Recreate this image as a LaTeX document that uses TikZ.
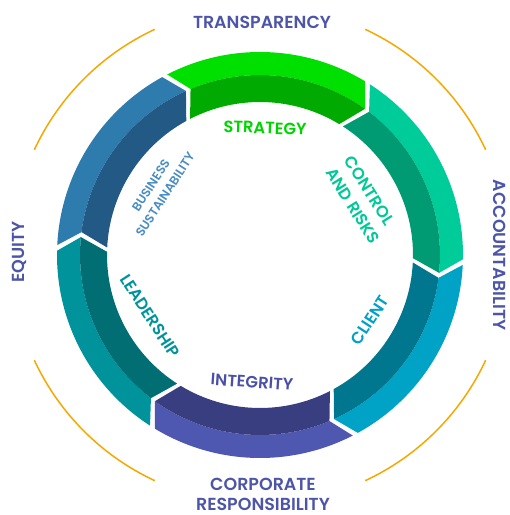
\documentclass[tikz,border=0pt]{standalone}
\usepackage{fontspec}
\setmainfont{Poppins}[BoldFont=* SemiBold]
\definecolor{lblblue}{HTML}{4D55A8}
\definecolor{arcorange}{HTML}{F5A800}
\definecolor{gLight}{HTML}{00E000}
\definecolor{gDark}{HTML}{00AA00}
\definecolor{trLight}{HTML}{00CC99}
\definecolor{trDark}{HTML}{009B72}
\definecolor{cyLight}{HTML}{00A3C6}
\definecolor{cyDark}{HTML}{00778F}
\definecolor{inLight}{HTML}{4F58B0}
\definecolor{inDark}{HTML}{383E80}
\definecolor{tlLight}{HTML}{00939B}
\definecolor{tlDark}{HTML}{006E73}
\definecolor{blLight}{HTML}{2E7BAE}
\definecolor{blDark}{HTML}{225A85}
\definecolor{cStrat}{HTML}{00D400}
\definecolor{cCtrl}{HTML}{00C896}
\definecolor{cClient}{HTML}{00A0C8}
\definecolor{cInteg}{HTML}{4A4FA8}
\definecolor{cLead}{HTML}{00939B}
\definecolor{cBus}{HTML}{4A8DC0}
\def\Ro{203bp}
\def\Rm{180bp}
\def\Ri{153bp}
\def\gp{0.8}
\def\dl{4.5}
\newcommand\ringseg[3]{%
  \fill[#2] ({#1+\gp-\dl}:\Rm) -- ({#1+\gp}:\Ro)
    arc[start angle={#1+\gp}, end angle={#1+60-\gp}, radius=\Ro]
    -- ({#1+60-\gp-\dl}:\Rm)
    arc[start angle={#1+60-\gp-\dl}, end angle={#1+\gp-\dl}, radius=\Rm] -- cycle;
  \fill[#3] ({#1+\gp-\dl}:\Rm) -- ({#1+\gp}:\Ri)
    arc[start angle={#1+\gp}, end angle={#1+60-\gp}, radius=\Ri]
    -- ({#1+60-\gp-\dl}:\Rm)
    arc[start angle={#1+60-\gp-\dl}, end angle={#1+\gp-\dl}, radius=\Rm] -- cycle;
}
\begin{document}
\begin{tikzpicture}[x=1bp,y=1bp,
  outerlbl/.style={font=\fontsize{17.5}{20}\selectfont\bfseries, text=lblblue, inner sep=0pt},
  innerlbl/.style={font=\fontsize{16.5}{22}\selectfont\bfseries, inner sep=0pt},
  smalllbl/.style={font=\fontsize{12.5}{17}\selectfont\bfseries, inner sep=0pt},
  orangearc/.style={draw=arcorange, line width=1.5bp}]
\useasboundingbox (-260,-260) rectangle (250,255);
% ring segments
\ringseg{58}{gLight}{gDark}
\ringseg{-2}{trLight}{trDark}
\ringseg{-62}{cyLight}{cyDark}
\ringseg{238}{inLight}{inDark}
\ringseg{178}{tlLight}{tlDark}
\ringseg{118}{blLight}{blDark}
% orange arcs
\draw[orangearc] (25:249bp) arc[start angle=25, end angle=65, radius=249bp];
\draw[orangearc] (115:249bp) arc[start angle=115, end angle=155, radius=249bp];
\draw[orangearc] (205:249bp) arc[start angle=205, end angle=245, radius=249bp];
\draw[orangearc] (295:249bp) arc[start angle=295, end angle=335, radius=249bp];
% outer labels
\node[outerlbl] (transp) at (2,233) {TRANSPARENCY};
\node[outerlbl, rotate=-90] (acc) at (240,0) {ACCOUNTABILITY};
\node[outerlbl, rotate=90] (eq) at (-241,3) {EQUITY};
\node[outerlbl, align=center] (corp) at (3,-239) {CORPORATE\\RESPONSIBILITY};
% inner labels
\node[innerlbl, text=cStrat, rotate=-2] (strat) at (5,127) {STRATEGY};
\node[innerlbl, text=cCtrl, rotate=-58, align=left] (ctrl) at (102,55) {CONTROL\\AND RISKS};
\node[innerlbl, text=cClient, rotate=57] (client) at (110,-65) {CLIENT};
\node[innerlbl, text=cInteg, rotate=-4] (integ) at (-8,-127) {INTEGRITY};
\node[innerlbl, text=cLead, rotate=-57] (lead) at (-110,-61) {LEADERSHIP};
\node[smalllbl, text=cBus, rotate=57, align=center] (bus) at (-102,65) {BUSINESS\\SUSTAINABILITY};
\end{tikzpicture}
\end{document}
